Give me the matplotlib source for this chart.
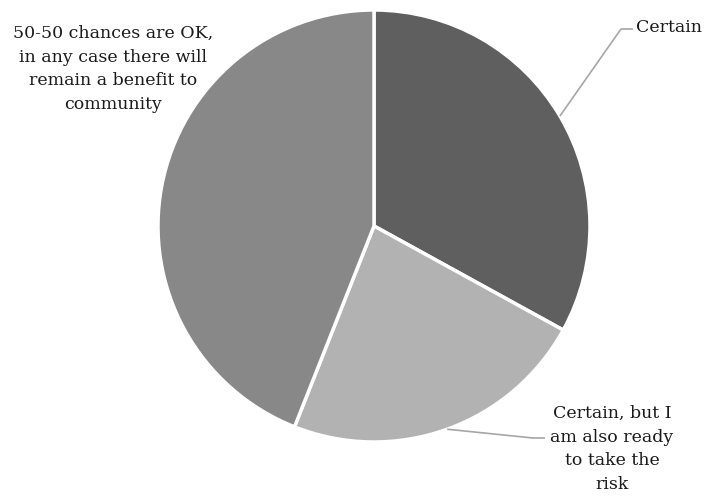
import numpy as np
import matplotlib
matplotlib.use('Agg')
import matplotlib.pyplot as plt

# -----------------------------
# Data
# -----------------------------
labels = ['Certain',
          'Certain, but I\nam also ready\nto take the\nrisk',
          '50-50 chances are OK,\nin any case there will\nremain a benefit to\ncommunity']
shares = [33, 23, 44]
colors = ['#5f5f5f', '#b2b2b2', '#888888']

# -----------------------------
# Layout (pixel units, y measured from bottom)
# -----------------------------
W, H = 705, 498
CX, CY, R = 374, 272, 216
FONT = 'DejaVu Serif'
FS = 12.5

fig = plt.figure(figsize=(W / 100, H / 100), dpi=100)
ax = fig.add_axes([0, 0, 1, 1])

wedges, _ = ax.pie(shares, colors=colors, startangle=90, counterclock=False,
                   center=(CX, CY), radius=R, frame=True,
                   wedgeprops=dict(edgecolor='white', linewidth=2.5))
ax.set_xlim(0, W)
ax.set_ylim(0, H)
ax.set_aspect('equal')
ax.axis('off')

# label placement: (elbow point, text anchor point, ha) ; None = no leader
placements = [
    ((621, H - 29), (636, H - 27), 'left'),
    ((533, H - 438), (612, H - 449), 'center'),
    (None, (113, H - 69), 'center'),
]

for w, lab, (elbow, txt, ha) in zip(wedges, labels, placements):
    ang = np.deg2rad((w.theta1 + w.theta2) / 2)
    if elbow is not None:
        x0, y0 = CX + R * np.cos(ang), CY + R * np.sin(ang)
        ax.plot([x0, elbow[0], elbow[0] + 12], [y0, elbow[1], elbow[1]],
                color='#a6a6a6', lw=1.2, solid_capstyle='butt')
    ax.text(txt[0], txt[1], lab, ha=ha, va='center', family=FONT,
            fontsize=FS, color='#1a1a1a', linespacing=1.5,
            multialignment='center')

fig.savefig('out.png', dpi=100)
